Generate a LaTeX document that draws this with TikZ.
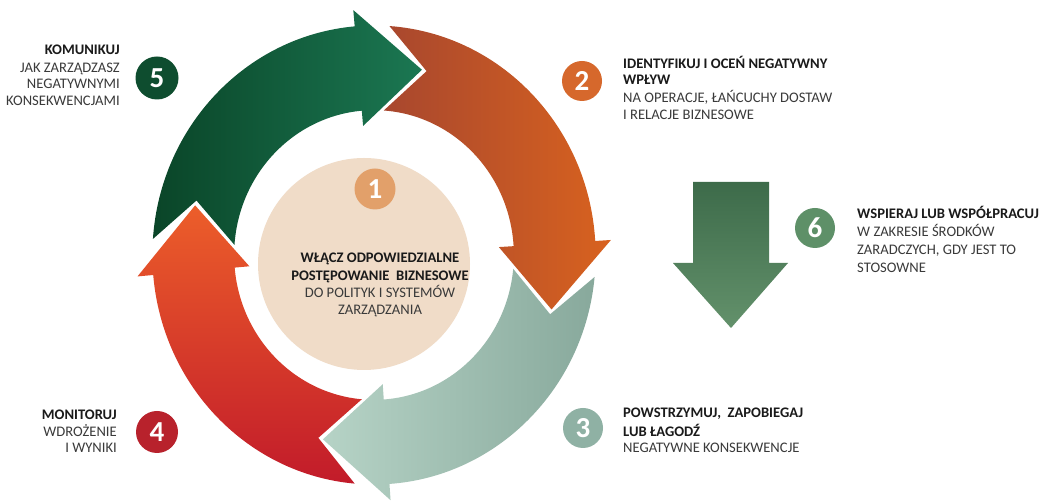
\documentclass[tikz,border=0pt]{standalone}
\usepackage{fontspec}
\setmainfont{Carlito}
\usetikzlibrary{calc}
\definecolor{cGreenA}{HTML}{0A4528}
\definecolor{cGreenB}{HTML}{1B7752}
\definecolor{cOrgA}{HTML}{A8472E}
\definecolor{cOrgB}{HTML}{D8621F}
\definecolor{cTealA}{HTML}{B6D3C6}
\definecolor{cTealB}{HTML}{88A99C}
\definecolor{cRedA}{HTML}{C21B2A}
\definecolor{cRedB}{HTML}{EC5E2A}
\definecolor{cBeige}{HTML}{F0DCC8}
\definecolor{cDownA}{HTML}{3D6B4A}
\definecolor{cDownB}{HTML}{63916B}
\definecolor{bFive}{HTML}{0E4D2F}
\definecolor{bTwo}{HTML}{D6682C}
\definecolor{bSix}{HTML}{5E9068}
\definecolor{bThree}{HTML}{8FB1A4}
\definecolor{bFour}{HTML}{B8222C}
\definecolor{bOne}{HTML}{E2A06A}
\definecolor{txHead}{HTML}{1A1A1A}
\definecolor{txBody}{HTML}{3A3A3A}
\def\arO{225}\def\arI{142}\def\arM{188}\def\arBO{241}\def\arBI{127}
\newcommand\ringarrow[3]{%
  \pgfmathsetmacro\ta{#1+11}%
  \pgfmathsetmacro\tn{#1-1.5}%
  \pgfmathsetmacro\hb{#2+20}%
  \path[#3] (\ta:\arO) arc[start angle=\ta, end angle=\hb, radius=\arO]
    -- (\hb:\arBO) -- (#2:\arM) -- (\hb:\arBI) -- (\hb:\arI)
    arc[start angle=\hb, end angle=\ta, radius=\arI] -- (\tn:\arM) -- cycle;}
\tikzset{
  hd/.style={inner sep=0, text=txHead, font=\fontsize{14.6}{17}\selectfont\bfseries},
  tx/.style={inner sep=0, text=txBody, font=\fontsize{14.6}{17}\selectfont},
  badge/.style={circle, minimum size=42, inner sep=0, text=white, font=\fontsize{29}{29}\selectfont\bfseries},
}
\begin{document}
\begin{tikzpicture}[x=1pt,y=1pt]
\useasboundingbox[fill=white] (0,0) rectangle (1039,502);
% ring arrows
\begin{scope}[shift={(374,247)}, xscale=0.985, yscale=1.02]
  \ringarrow{165}{75}{left color=cGreenA, right color=cGreenB}
  \ringarrow{75}{-16.5}{left color=cOrgA, right color=cOrgB}
  \ringarrow{-16.5}{-106}{left color=cTealA, right color=cTealB}
  \ringarrow{254}{165}{top color=cRedB, bottom color=cRedA}
\end{scope}
% centre disc
\node[circle, fill=cBeige, minimum size=212, inner sep=0] (core) at (364,238) {};
\node[badge, fill=bOne, minimum size=41] (b1) at (375,313) {1};
\node[hd, anchor=base] (c1) at (380,239) {WŁĄCZ ODPOWIEDZIALNE};
\node[hd, anchor=base] (c2) at (380,221) {POSTĘPOWANIE\ \ BIZNESOWE};
\node[tx, anchor=base] (c3) at (380,204) {DO POLITYK I SYSTEMÓW};
\node[tx, anchor=base] (c4) at (380,187) {ZARZĄDZANIA};
% down arrow
\path[top color=cDownA, bottom color=cDownB] (693,320) -- (769,320) -- (769,239) -- (788,239) -- (731,174) -- (673,239) -- (693,239) -- cycle;
% badges
\node[badge, fill=bFive, minimum size=43] (b5) at (157,424) {5};
\node[badge, fill=bTwo, minimum size=40] (b2) at (582,421) {2};
\node[badge, fill=bSix, minimum size=40] (b6) at (815,274) {6};
\node[badge, fill=bThree, minimum size=40] (b3) at (583,74) {3};
\node[badge, fill=bFour] (b4) at (157,70) {4};
% label 5
\node[hd, anchor=base east] (l5a) at (120,447) {KOMUNIKUJ};
\node[tx, anchor=base east] (l5b) at (120,429) {JAK ZARZĄDZASZ};
\node[tx, anchor=base east] (l5c) at (120,413) {NEGATYWNYMI};
\node[tx, anchor=base east] (l5d) at (120,396) {KONSEKWENCJAMI};
% label 2
\node[hd, anchor=base west] (l2a) at (623,433) {IDENTYFIKUJ I OCEŃ NEGATYWNY};
\node[hd, anchor=base west] (l2b) at (623,417) {WPŁYW};
\node[tx, anchor=base west] (l2c) at (623,399) {NA OPERACJE, ŁAŃCUCHY DOSTAW};
\node[tx, anchor=base west] (l2d) at (623,382) {I RELACJE BIZNESOWE};
% label 6
\node[hd, anchor=base west] (l6a) at (857,283) {WSPIERAJ LUB WSPÓŁPRACUJ};
\node[tx, anchor=base west] (l6b) at (857,265) {W ZAKRESIE ŚRODKÓW};
\node[tx, anchor=base west] (l6c) at (857,247) {ZARADCZYCH, GDY JEST TO};
\node[tx, anchor=base west] (l6d) at (857,229) {STOSOWNE};
% label 3
\node[hd, anchor=base west] (l3a) at (623,84) {POWSTRZYMUJ,\ \ ZAPOBIEGAJ};
\node[hd, anchor=base west] (l3b) at (623,65) {LUB ŁAGODŹ};
\node[tx, anchor=base west] (l3c) at (623,49) {NEGATYWNE KONSEKWENCJE};
% label 4
\node[hd, anchor=base east] (l4a) at (117,82) {MONITORUJ};
\node[tx, anchor=base east] (l4b) at (117,65) {WDROŻENIE};
\node[tx, anchor=base east] (l4c) at (117,49) {I WYNIKI};
\end{tikzpicture}
\end{document}
